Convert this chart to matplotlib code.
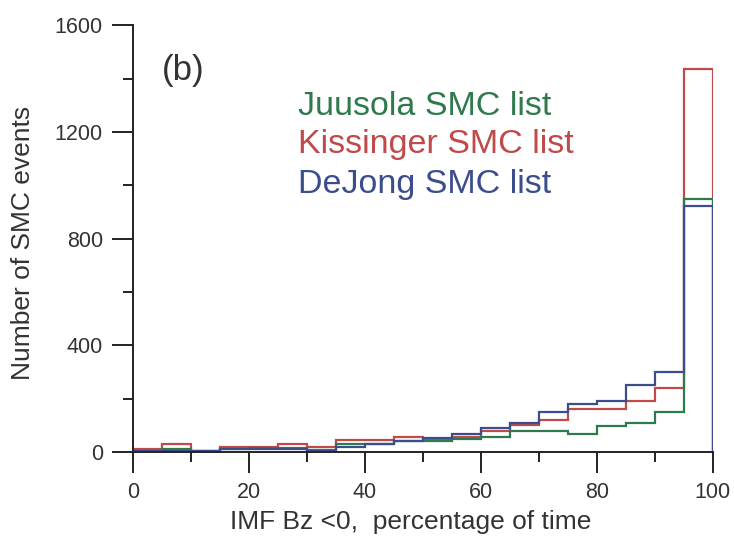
import numpy as np
import matplotlib
matplotlib.use("Agg")
from matplotlib import pyplot as plt
from matplotlib.ticker import MultipleLocator

plt.rcParams['font.family'] = ['Liberation Sans', 'DejaVu Sans']

# 5 % wide bins from 0 to 100
bin_edges = np.arange(0, 101, 5)

juusola = [4, 12, 4, 12, 16, 16, 9, 31, 31, 40,
           40, 50, 58, 81, 81, 69, 97, 108, 150, 950]
kissinger = [12, 31, 6, 19, 19, 29, 19, 44, 44, 58,
             50, 58, 81, 100, 121, 160, 160, 191, 239, 1436]
dejong = [6, 4, 6, 12, 12, 12, 6, 19, 31, 42,
          54, 69, 90, 110, 152, 181, 191, 252, 300, 922]

series_names = ["Juusola SMC list", "Kissinger SMC list", "DeJong SMC list"]
series_colors = ["#2f7a4c", "#c0494a", "#3b4d8c"]

fig = plt.figure(figsize=(7.34, 5.37), dpi=100)
ax = fig.add_axes([0.181, 0.158, 0.79, 0.795])

# draw red first, then green, blue last (on top)
ax.stairs(kissinger, bin_edges, baseline=0, color=series_colors[1], lw=1.6)
ax.stairs(juusola, bin_edges, baseline=0, color=series_colors[0], lw=1.6)
ax.stairs(dejong, bin_edges, baseline=0, color=series_colors[2], lw=1.6)

ax.set_xlim(0, 100)
ax.set_ylim(0, 1600)
ax.xaxis.set_major_locator(MultipleLocator(20))
ax.xaxis.set_minor_locator(MultipleLocator(10))
ax.yaxis.set_major_locator(MultipleLocator(400))
ax.yaxis.set_minor_locator(MultipleLocator(200))

for side in ["top", "right"]:
    ax.spines[side].set_visible(False)
for side in ["left", "bottom"]:
    ax.spines[side].set_linewidth(1.4)
    ax.spines[side].set_color("#222222")

ax.tick_params(which="major", direction="out", length=15, width=1.4,
               labelsize=15.5, colors="#222222", labelcolor="#333333", pad=6.5)
ax.tick_params(which="minor", direction="out", length=7.5, width=1.4,
               colors="#222222")

ax.set_xlabel("IMF Bz <0,  percentage of time", fontsize=19, color="#333333")
ax.set_ylabel("Number of SMC events", fontsize=19, color="#333333")
ax.xaxis.set_label_coords(0.479, -0.136)
ax.yaxis.set_label_coords(-0.168, 0.49)

ax.text(5.0, 1394, "(b)", fontsize=25, color="#333333", va="baseline")
legend_y = [1263, 1120, 970]
for name, col, yy in zip(series_names, series_colors, legend_y):
    ax.text(28.4, yy, name, fontsize=24.5, color=col, va="baseline")

fig.savefig("out.png", dpi=100)
